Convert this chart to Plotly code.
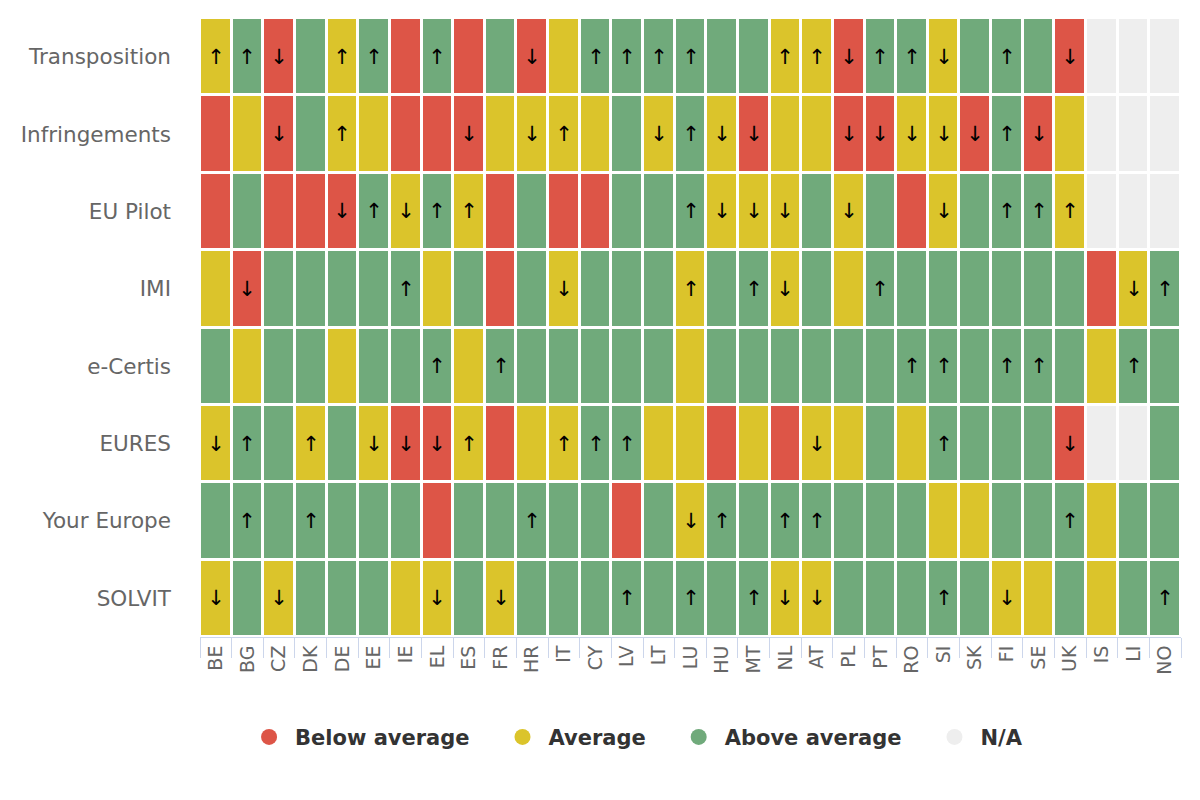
import plotly.graph_objects as go

countries = ["BE", "BG", "CZ", "DK", "DE", "EE", "IE", "EL", "ES", "FR", "HR", "IT",
             "CY", "LV", "LT", "LU", "HU", "MT", "NL", "AT", "PL", "PT", "RO", "SI",
             "SK", "FI", "SE", "UK", "IS", "LI", "NO"]

indicators = ["Transposition", "Infringements", "EU Pilot", "IMI", "e-Certis",
              "EURES", "Your Europe", "SOLVIT"]

# status: B = below average, A = average, G = above average, N = n/a
# trend suffix: + = improving (up arrow), - = worsening (down arrow)
transposition = ["A+", "G+", "B-", "G", "A+", "G+", "B", "G+", "B", "G", "B-", "A",
                 "G+", "G+", "G+", "G+", "G", "G", "A+", "A+", "B-", "G+", "G+", "A-",
                 "G", "G+", "G", "B-", "N", "N", "N"]
infringements = ["B", "A", "B-", "G", "A+", "A", "B", "B", "B-", "A", "A-", "A+",
                 "A", "G", "A-", "G+", "A-", "B-", "A", "A", "B-", "B-", "A-", "A-",
                 "B-", "G+", "B-", "A", "N", "N", "N"]
eu_pilot = ["B", "G", "B", "B", "B-", "G+", "A-", "G+", "A+", "B", "G", "B",
            "B", "G", "G", "G+", "A-", "A-", "A-", "G", "A-", "G", "B", "A-",
            "G", "G+", "G+", "A+", "N", "N", "N"]
imi = ["A", "B-", "G", "G", "G", "G", "G+", "A", "G", "B", "G", "A-",
       "G", "G", "G", "A+", "G", "G+", "A-", "G", "A", "G+", "G", "G",
       "G", "G", "G", "G", "B", "A-", "G+"]
e_certis = ["G", "A", "G", "G", "A", "G", "G", "G+", "A", "G+", "G", "G",
            "G", "G", "G", "A", "G", "G", "G", "G", "G", "G", "G+", "G+",
            "G", "G+", "G+", "G", "A", "G+", "G"]
eures = ["A-", "G+", "G", "A+", "G", "A-", "B-", "B-", "A+", "B", "A", "A+",
         "G+", "G+", "A", "A", "B", "A", "B", "A-", "A", "G", "A", "G+",
         "G", "G", "G", "B-", "N", "N", "G"]
your_europe = ["G", "G+", "G", "G+", "G", "G", "G", "B", "G", "G", "G+", "G",
               "G", "B", "G", "A-", "G+", "G", "G+", "G+", "G", "G", "G", "A",
               "A", "G", "G", "G+", "A", "G", "G"]
solvit = ["A-", "G", "A-", "G", "G", "G", "A", "A-", "G", "A-", "G", "G",
          "G", "G+", "G", "G+", "G", "G+", "A-", "A-", "G", "G", "G", "G+",
          "G", "A-", "A", "G", "A", "G", "G+"]

rows = [transposition, infringements, eu_pilot, imi, e_certis, eures, your_europe, solvit]

legend_labels = ["Below average", "Average", "Above average", "N/A"]
status_codes = ["B", "A", "G", "N"]
colors = ["#DD5547", "#DBC42B", "#70AA7B", "#EEEEEE"]
arrows = {"+": "↑", "-": "↓", "": ""}

for r in rows:
    assert len(r) == len(countries)

z = [[status_codes.index(c[0]) for c in r] for r in rows]
txt = [[arrows[c[1:]] for c in r] for r in rows]

n = len(colors)
colorscale = []
for i, c in enumerate(colors):
    colorscale.append([i / n, c])
    colorscale.append([(i + 1) / n, c])

fig = go.Figure()
fig.add_trace(go.Heatmap(
    z=z, x=countries, y=indicators, text=txt, texttemplate="%{text}",
    textfont=dict(size=21, color="#000000", family="DejaVu Sans"),
    colorscale=colorscale, zmin=-0.5, zmax=n - 0.5, showscale=False,
    xgap=3, ygap=3, hoverinfo="skip",
))

NBSP = "\u00a0"
for i, (lab, col) in enumerate(zip(legend_labels, colors)):
    pad = NBSP * 3 if i < len(legend_labels) - 1 else ""
    fig.add_trace(go.Scatter(
        x=[None], y=[None], mode="markers", name=lab + pad,
        marker=dict(symbol="circle", size=24, color=col),
    ))

fig.update_layout(
    width=1200, height=800,
    margin=dict(l=192, r=27, t=10, b=171),
    paper_bgcolor="white", plot_bgcolor="white",
    font=dict(family="DejaVu Sans", color="#666666"),
    showlegend=True,
    legend=dict(orientation="h", x=0.444, xanchor="center", y=-0.162, yanchor="middle",
                font=dict(size=21, color="#333333", family="DejaVu Sans", weight="bold"),
                itemsizing="trace", itemwidth=42, traceorder="normal"),
    xaxis=dict(type="category", categoryorder="array", categoryarray=countries,
               tickangle=-90, tickson="boundaries", ticks="outside", ticklen=20,
               tickcolor="#ccd6eb", tickwidth=1, showline=True, linecolor="#ccd6eb",
               linewidth=1, showgrid=False, zeroline=False,
               tickfont=dict(size=19, color="#666666"), fixedrange=True),
    yaxis=dict(type="category", categoryorder="array", categoryarray=indicators,
               autorange="reversed", showgrid=False, zeroline=False, ticks="",
               ticklabelstandoff=28, tickfont=dict(size=21.5, color="#666666"),
               fixedrange=True),
    xaxis2=dict(overlaying="x", side="top", showline=True, linecolor="#e6e6e6",
                linewidth=1, showticklabels=False, showgrid=False, zeroline=False,
                ticks="", range=[0, 1], fixedrange=True),
)

fig.write_html("out.html")
